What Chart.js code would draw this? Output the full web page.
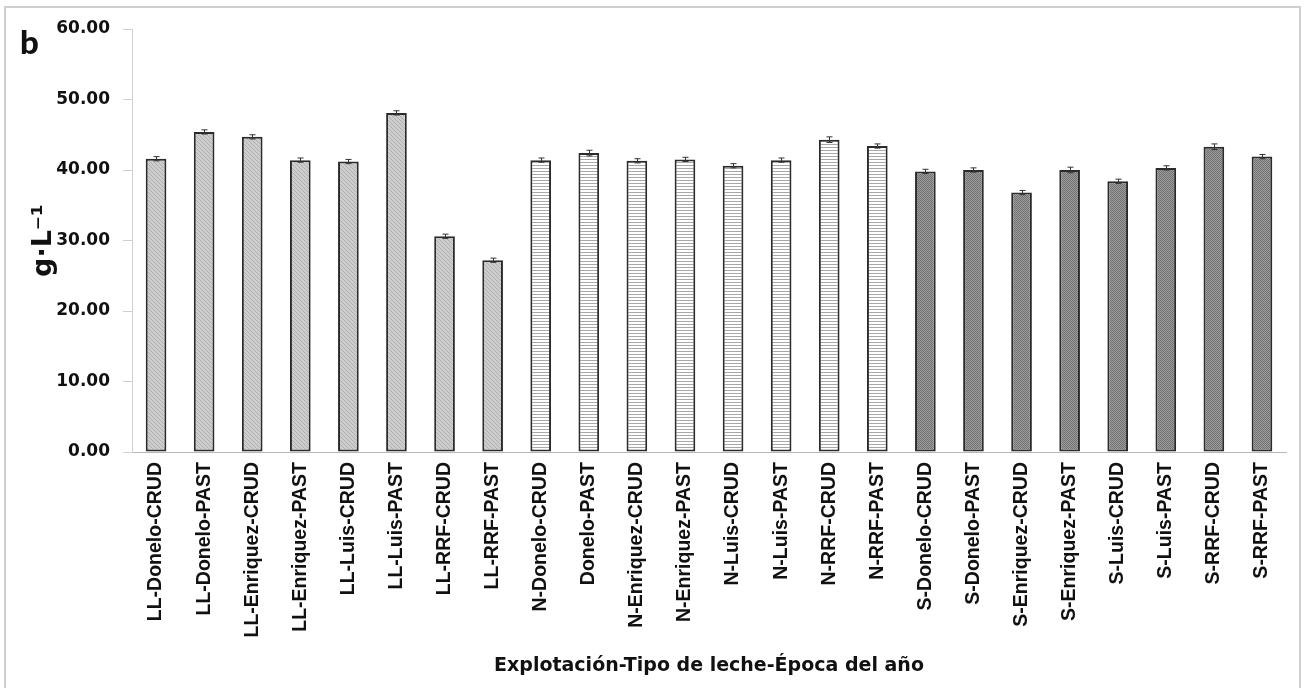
<!DOCTYPE html>
<html>
<head>
<meta charset="utf-8">
<script src="https://cdn.jsdelivr.net/npm/chart.js@4.4.1/dist/chart.umd.min.js"></script>
<style>
  body { margin: 0; background: #fff; }
  #wrap { width: 1306px; height: 688px; }
</style>
</head>
<body>
<div id="wrap"><canvas id="barChart" width="1306" height="688"></canvas></div>
<script>
// Category labels (Explotación-Tipo de leche-Época)
const categories = [
    'LL-Donelo-CRUD', 'LL-Donelo-PAST', 'LL-Enriquez-CRUD', 'LL-Enriquez-PAST',
    'LL-Luis-CRUD', 'LL-Luis-PAST', 'LL-RRF-CRUD', 'LL-RRF-PAST',
    'N-Donelo-CRUD', 'Donelo-PAST', 'N-Enriquez-CRUD', 'N-Enriquez-PAST',
    'N-Luis-CRUD', 'N-Luis-PAST', 'N-RRF-CRUD', 'N-RRF-PAST',
    'S-Donelo-CRUD', 'S-Donelo-PAST', 'S-Enriquez-CRUD', 'S-Enriquez-PAST',
    'S-Luis-CRUD', 'S-Luis-PAST', 'S-RRF-CRUD', 'S-RRF-PAST'
];
// group of each bar (LL, N, S) -> decides the fill pattern
const groups = [
    'LL', 'LL', 'LL', 'LL', 'LL', 'LL', 'LL', 'LL',
    'N', 'N', 'N', 'N', 'N', 'N', 'N', 'N',
    'S', 'S', 'S', 'S', 'S', 'S', 'S', 'S'
];
// mean values g·L-1
const values = [
    41.6, 45.4, 44.7, 41.4, 41.2, 48.1, 30.6, 27.2,
    41.4, 42.4, 41.3, 41.5, 40.6, 41.4, 44.3, 43.4,
    39.8, 40.0, 36.8, 40.0, 38.4, 40.3, 43.3, 41.9
];
// error bars (+/-)
const errors = [
    0.3, 0.3, 0.3, 0.3, 0.3, 0.3, 0.3, 0.3,
    0.3, 0.4, 0.3, 0.3, 0.3, 0.3, 0.4, 0.3,
    0.3, 0.3, 0.3, 0.4, 0.3, 0.3, 0.4, 0.3
];
const yTicks = [0, 10, 20, 30, 40, 50, 60];

function makePattern(type) {
    const c = document.createElement('canvas');
    const p = c.getContext('2d');
    if (type === 'LL') {
        c.width = 4; c.height = 4;
        p.fillStyle = '#cdcdcd';
        p.fillRect(0, 0, 4, 4);
        p.fillStyle = '#b0b0b0';
        for (let i = 0; i < 4; i++) p.fillRect(i, i, 1, 1);
    } else if (type === 'N') {
        c.width = 4; c.height = 3;
        p.fillStyle = '#ffffff';
        p.fillRect(0, 0, 4, 3);
        p.fillStyle = '#a8a8a8';
        p.fillRect(0, 0, 4, 1);
    } else {
        c.width = 2; c.height = 2;
        p.fillStyle = '#9c9c9c';
        p.fillRect(0, 0, 2, 2);
        p.fillStyle = '#727272';
        p.fillRect(0, 0, 1, 1);
        p.fillRect(1, 1, 1, 1);
    }
    return p.createPattern(c, 'repeat');
}

const patterns = { LL: makePattern('LL'), N: makePattern('N'), S: makePattern('S') };

// frame around the whole figure + panel letter
const framePlugin = {
    id: 'frame',
    beforeDraw(chart) {
        const ctx = chart.ctx;
        ctx.save();
        ctx.fillStyle = '#fff';
        ctx.fillRect(0, 0, chart.width, chart.height);
        ctx.strokeStyle = '#cfcfcf';
        ctx.lineWidth = 2;
        ctx.strokeRect(5, 7, 1295, 700);
        ctx.restore();
    },
    afterDraw(chart) {
        const ctx = chart.ctx;
        ctx.save();
        ctx.fillStyle = '#111';
        ctx.font = '900 33px Lato';
        ctx.textBaseline = 'alphabetic';
        ctx.fillText('b', 20, 54);
        ctx.restore();
    }
};

const errorBarPlugin = {
    id: 'errorBars',
    afterDatasetsDraw(chart) {
        const ctx = chart.ctx;
        const meta = chart.getDatasetMeta(0);
        const y = chart.scales.y;
        ctx.save();
        ctx.strokeStyle = '#333';
        ctx.lineWidth = 1;
        meta.data.forEach((bar, i) => {
            const top = y.getPixelForValue(values[i] + errors[i]);
            const bot = y.getPixelForValue(values[i] - errors[i]);
            const x = Math.round(bar.x) + 0.5;
            ctx.beginPath();
            ctx.moveTo(x, top);
            ctx.lineTo(x, bot);
            ctx.moveTo(x - 3, top);
            ctx.lineTo(x + 3, top);
            ctx.moveTo(x - 3, bot);
            ctx.lineTo(x + 3, bot);
            ctx.stroke();
        });
        ctx.restore();
    }
};

const ctx = document.getElementById('barChart').getContext('2d');
new Chart(ctx, {
    type: 'bar',
    data: {
        labels: categories,
        datasets: [{
            data: values,
            backgroundColor: groups.map(g => patterns[g]),
            borderColor: '#2b2b2b',
            borderWidth: 2,
            borderSkipped: false,
            barPercentage: 0.86,
            categoryPercentage: 0.5
        }]
    },
    options: {
        responsive: false,
        animation: false,
        layout: { padding: { left: 0, top: 29, right: 20, bottom: 0 } },
        plugins: {
            legend: { display: false },
            tooltip: { enabled: false }
        },
        scales: {
            x: {
                afterFit: function(scale) { scale.height = 236; },
                grid: { display: false, drawTicks: false },
                border: { display: true, color: '#b8b8b8', width: 1 },
                ticks: {
                    autoSkip: false,
                    maxRotation: 90,
                    minRotation: 90,
                    padding: 10,
                    color: '#111',
                    font: { family: 'Liberation Sans', size: 19.5, weight: 'bold' }
                },
                title: {
                    display: true,
                    text: 'Explotación-Tipo de leche-Época del año',
                    color: '#111',
                    padding: { top: 0, bottom: 11 },
                    font: { family: 'DejaVu Sans', size: 19, weight: 'bold' }
                }
            },
            y: {
                min: 0,
                max: 60,
                afterFit: function(scale) { scale.width = 132; },
                afterBuildTicks: function(scale) {
                    scale.ticks = yTicks.map(v => ({ value: v }));
                },
                grid: {
                    display: true,
                    drawOnChartArea: false,
                    drawTicks: true,
                    tickLength: 9,
                    color: '#d0d0d0'
                },
                border: { display: true, color: '#d0d0d0', width: 1 },
                ticks: {
                    padding: 13,
                    color: '#111',
                    font: { family: 'DejaVu Sans', size: 17, weight: 'bold' },
                    callback: function(value) { return value.toFixed(2); }
                },
                title: {
                    display: true,
                    text: 'g·L⁻¹',
                    color: '#111',
                    padding: { top: 28, bottom: 0 },
                    font: { family: 'DejaVu Sans', size: 27, weight: 'bold' }
                }
            }
        }
    },
    plugins: [framePlugin, errorBarPlugin]
});
</script>
</body>
</html>
